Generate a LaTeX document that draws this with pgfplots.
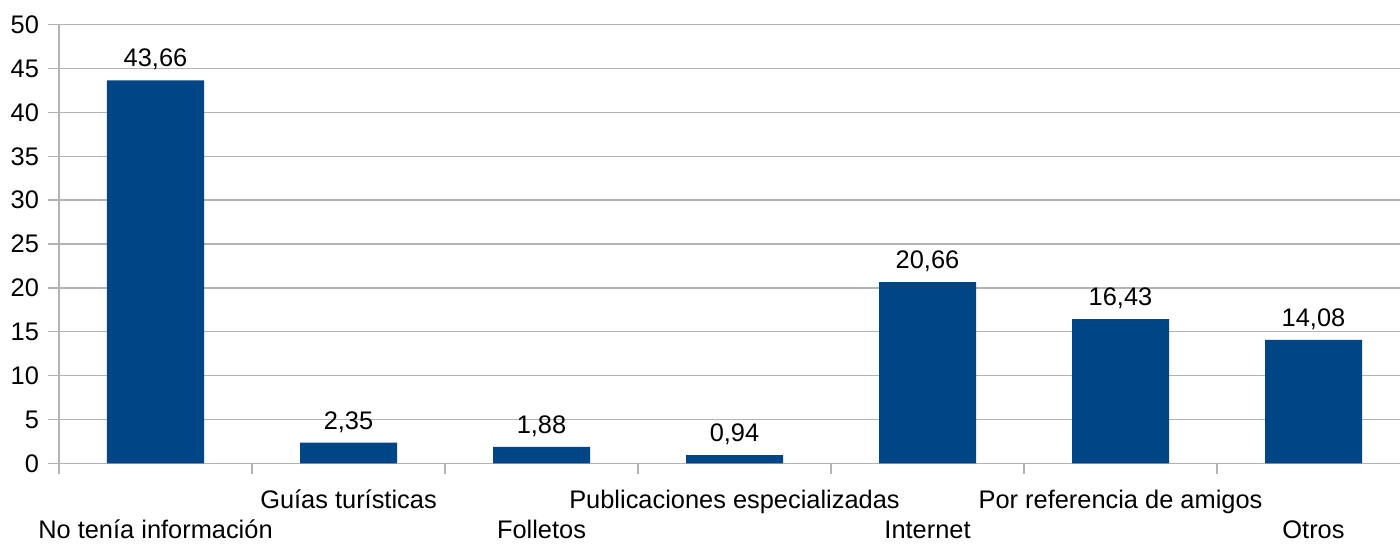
\documentclass[border=0pt]{standalone}
\usepackage{fontspec}
\setmainfont{Liberation Sans}
\usepackage{pgfplots}
\pgfplotsset{compat=1.18}
\definecolor{barblue}{RGB}{0,69,134}
\definecolor{gridgray}{RGB}{179,179,179}
\begin{document}
\begin{tikzpicture}
\path[use as bounding box] (-29.5pt,-40.35pt) rectangle (670.5pt,231.65pt);
\begin{axis}[
  at={(0pt,0pt)}, anchor=south west,
  scale only axis, width=675.5pt, height=219.3pt,
  xmin=-0.5, xmax=6.5, ymin=0, ymax=50,
  axis lines=left, axis line style={draw=gridgray, line width=0.7pt, -},
  ymajorgrids, grid style={draw=gridgray, line width=0.7pt},
  tick align=outside, major tick length=5.5pt,
  tick style={draw=gridgray, line width=0.7pt},
  ytick={0,5,...,50},
  xtick={-0.5,0.5,...,6.5}, xticklabels={},
  extra x ticks={0,1,2,3,4,5,6},
  extra x tick labels={{\raisebox{-14.75pt}{No tenía información}},Guías turísticas,{\raisebox{-14.75pt}{Folletos}},Publicaciones especializadas,{\raisebox{-14.75pt}{Internet}},Por referencia de amigos,{\raisebox{-14.75pt}{Otros}}},
  extra x tick style={major tick length=0pt},
  xticklabel style={anchor=base, yshift=-22.8pt, inner sep=0pt},
  yticklabel style={anchor=east, inner sep=0pt, xshift=-4.3pt},
  ticklabel style={font=\fontsize{12.7}{14}\selectfont},
  /pgf/number format/assume math mode=true,
  ybar, bar width=48.5pt,
  nodes near coords,
  nodes near coords style={font=\fontsize{12.7}{14}\selectfont, anchor=base, yshift=6.8pt, inner sep=0pt,
    /pgf/number format/.cd, fixed, fixed zerofill, precision=2, use comma, assume math mode=true},
]
\addplot[fill=barblue, draw=none] coordinates {(0,43.66) (1,2.35) (2,1.88) (3,0.94) (4,20.66) (5,16.43) (6,14.08)};
\end{axis}
\end{tikzpicture}
\end{document}
